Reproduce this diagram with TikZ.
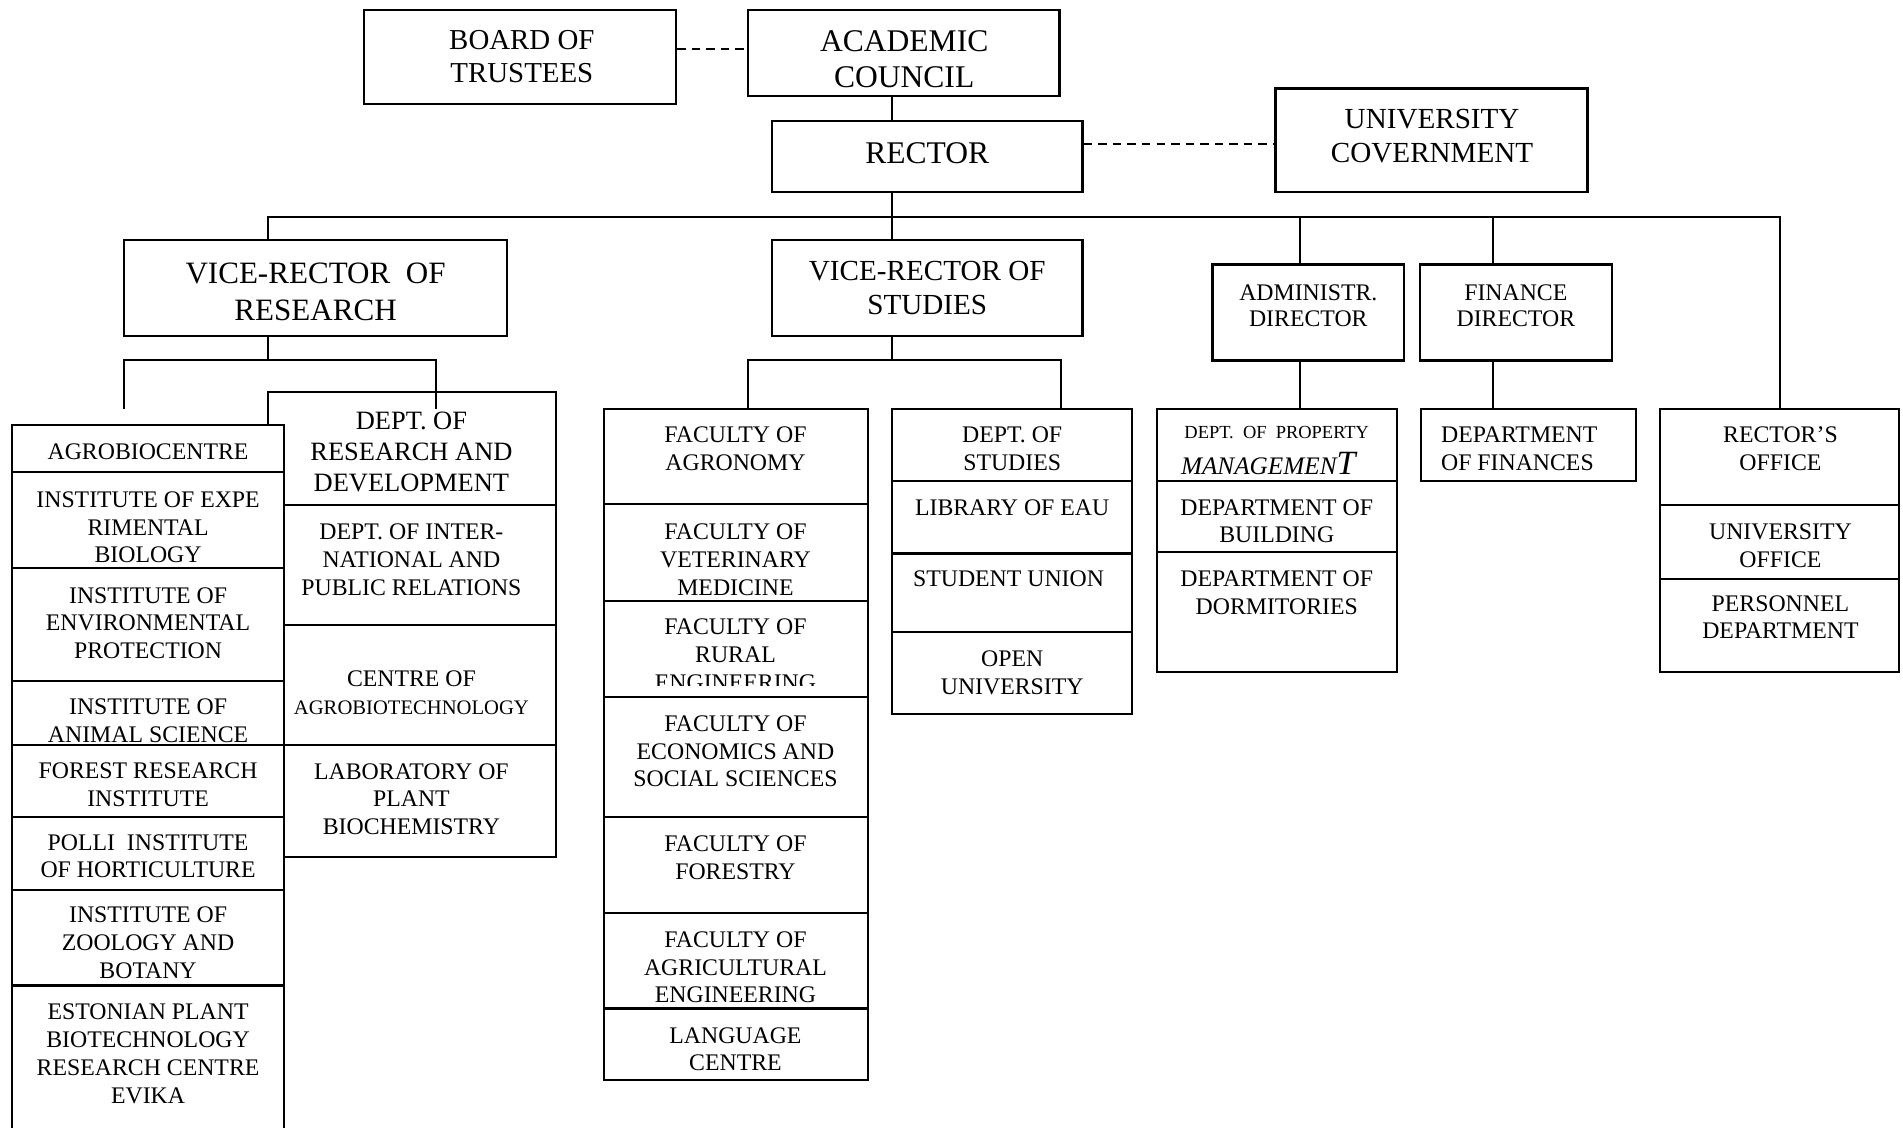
\documentclass[tikz,border=0pt]{standalone}
\usepackage{fontspec}
\setmainfont{Liberation Serif}
\usetikzlibrary{fit}
\tikzset{
  box/.style={draw, line width=0.9pt, fill=white, inner sep=0pt},
  conn/.style={line width=0.8pt},
  dashconn/.style={line width=0.8pt, dash pattern=on 3.5pt off 2.5pt},
  txt/.style={align=center, inner sep=0pt, yshift=-0.5pt},
  lbl/.style={txt, font=\fontsize{9.8}{11.5}\selectfont},
  dirf/.style={txt, font=\fontsize{9.8}{11}\selectfont},
  bigf/.style={txt, font=\fontsize{13}{15}\selectfont},
  vrf/.style={txt, font=\fontsize{12.8}{15.5}\selectfont},
  midf/.style={txt, font=\fontsize{12}{14}\selectfont},
  boardf/.style={txt, font=\fontsize{11.9}{13.5}\selectfont},
  rdf/.style={txt, font=\fontsize{10.9}{12.8}\selectfont},
}
\newcommand\cbox[5]{\node[box, fit={(#2,#3) (#4,#5)}] (#1) {};}
\begin{document}
\begin{tikzpicture}[x=0.5pt, y=-0.5pt]
\useasboundingbox (0,0) rectangle (1568,929);

% ---------- top level ----------
\cbox{board}{300}{8}{557}{86}
\node[boardf] (board-t) at (430,45.5) {BOARD OF\\TRUSTEES};
\cbox{acad}{616}{8}{873}{79}
\node[bigf] (acad-t) at (745,48) {ACADEMIC\\COUNCIL};
\cbox{rector}{636}{100}{892}{158}
\node[bigf] (rector-t) at (764,125) {RECTOR};
\cbox{gov}{1051}{73}{1308}{158}
\node[midf] (gov-t) at (1180,111) {UNIVERSITY\\COVERNMENT};

\cbox{vrr}{102}{198}{418}{277}
\node[vrf] (vrr-t) at (260,239.5) {VICE-RECTOR\ \ OF\\RESEARCH};
\cbox{vrs}{636}{198}{892}{277}
\node[midf] (vrs-t) at (764,236) {VICE-RECTOR OF\\STUDIES};
\cbox{adm}{999}{218}{1157}{297}
\node[dirf] (adm-t) at (1078,251) {ADMINISTR.\\DIRECTOR};
\cbox{fin}{1170}{218}{1328}{297}
\node[dirf] (fin-t) at (1249,251) {FINANCE\\DIRECTOR};

% ---------- research: R&D column ----------
\cbox{rd1}{221}{323}{458}{416}
\node[rdf] (rd1-t) at (339,371.5) {DEPT. OF\\RESEARCH AND\\DEVELOPMENT};
\cbox{rd2}{234}{416}{458}{515}
\node[lbl] (rd2-t) at (339,460.5) {DEPT. OF INTER-\\NATIONAL AND\\PUBLIC RELATIONS};
\cbox{rd3}{234}{515}{458}{614}
\node[lbl] (rd3-t) at (339,569.5) {CENTRE OF\\{\fontsize{8.5}{11.5}\selectfont AGROBIOTECHNOLOGY}};
\cbox{rd4}{234}{614}{458}{706}
\node[lbl] (rd4-t) at (339,657.5) {LABORATORY OF\\PLANT\\BIOCHEMISTRY};

% ---------- research: institutes column ----------
\cbox{ag1}{10}{350}{234}{389}
\node[lbl] (ag1-t) at (122,371) {AGROBIOCENTRE};
\cbox{ag2}{10}{389}{234}{468}
\node[lbl] (ag2-t) at (122,433.5) {INSTITUTE OF EXPE\\RIMENTAL\\BIOLOGY};
\cbox{ag3}{10}{468}{234}{561}
\node[lbl] (ag3-t) at (122,512.5) {INSTITUTE OF\\ENVIRONMENTAL\\PROTECTION};
\cbox{ag4}{10}{561}{234}{614}
\node[lbl] (ag4-t) at (122,592.5) {INSTITUTE OF\\ANIMAL SCIENCE};
\cbox{ag5}{10}{614}{234}{673}
\node[lbl] (ag5-t) at (122,645.5) {FOREST RESEARCH\\INSTITUTE};
\cbox{ag6}{10}{673}{234}{733}
\node[lbl] (ag6-t) at (122,704.5) {POLLI\ \ INSTITUTE\\OF HORTICULTURE};
\cbox{ag7}{10}{733}{234}{812}
\node[lbl] (ag7-t) at (122,776) {INSTITUTE OF\\ZOOLOGY AND\\BOTANY};
\cbox{ag8}{10}{812}{234}{945}
\node[lbl] (ag8-t) at (122,867) {ESTONIAN PLANT\\BIOTECHNOLOGY\\RESEARCH CENTRE\\EVIKA};

% ---------- studies: faculties ----------
\cbox{fa1}{498}{337}{715}{415}
\node[lbl] (fa1-t) at (606,368.5) {FACULTY OF\\AGRONOMY};
\cbox{fa2}{498}{415}{715}{495}
\node[lbl] (fa2-t) at (606,460) {FACULTY OF\\VETERINARY\\MEDICINE};
\cbox{fa3}{498}{495}{715}{574}
\begin{scope}
\clip (498,495) rectangle (715,565);
\node[lbl] (fa3-t) at (606,538.5) {FACULTY OF\\RURAL\\ENGINEERING};
\end{scope}
\cbox{fa4}{498}{574}{715}{673}
\node[lbl] (fa4-t) at (606,618) {FACULTY OF\\ECONOMICS AND\\SOCIAL SCIENCES};
\cbox{fa5}{498}{673}{715}{752}
\node[lbl] (fa5-t) at (606,705.5) {FACULTY OF\\FORESTRY};
\cbox{fa6}{498}{752}{715}{831}
\node[lbl] (fa6-t) at (606,796) {FACULTY OF\\AGRICULTURAL\\ENGINEERING};
\cbox{fa7}{498}{831}{715}{890}
\node[lbl] (fa7-t) at (606,863.5) {LANGUAGE\\CENTRE};

% ---------- studies: departments ----------
\cbox{st1}{735}{337}{933}{396}
\node[lbl] (st1-t) at (834,368.5) {DEPT. OF\\STUDIES};
\cbox{st2}{735}{396}{933}{456}
\node[lbl] (st2-t) at (834,417) {LIBRARY OF EAU};
\cbox{st3}{735}{456}{933}{521}
\node[lbl] (st3-t) at (831,476) {STUDENT UNION};
\cbox{st4}{735}{521}{933}{588}
\node[lbl] (st4-t) at (834,553.5) {OPEN\\UNIVERSITY};

% ---------- administration ----------
\cbox{ad1}{953}{337}{1151}{396}
\node[lbl, font=\fontsize{7.6}{9}\selectfont] (ad1-t) at (1052,355) {DEPT.\ \ OF\ \ PROPERTY};
\begin{scope}
\clip (953,337) rectangle (1151,391);
\node[lbl, font=\itshape] (ad1-m) at (1045,381) {{\fontsize{10.4}{12}\selectfont MANAGEMEN}{\fontsize{14}{14}\selectfont T}};
\end{scope}
\cbox{ad2}{953}{396}{1151}{455}
\node[lbl] (ad2-t) at (1052,428.5) {DEPARTMENT OF\\BUILDING};
\cbox{ad3}{953}{455}{1151}{554}
\node[lbl] (ad3-t) at (1052,487.5) {DEPARTMENT OF\\DORMITORIES};

% ---------- finance ----------
\cbox{df}{1171}{337}{1348}{396}
\node[lbl, align=left, anchor=west] (df-t) at (1187,368.5) {DEPARTMENT\\OF FINANCES};

% ---------- rector's office ----------
\cbox{ro1}{1368}{337}{1565}{416}
\node[lbl] (ro1-t) at (1467,368.5) {RECTOR’S\\OFFICE};
\cbox{ro2}{1368}{416}{1565}{477}
\node[lbl] (ro2-t) at (1467,448.5) {UNIVERSITY\\OFFICE};
\cbox{ro3}{1368}{477}{1565}{554}
\node[lbl] (ro3-t) at (1467,507.5) {PERSONNEL\\DEPARTMENT};

% ---------- connectors ----------
\coordinate (d1) at (0,40);
\coordinate (d2) at (0,119);
\draw[dashconn] (board.east |- d1) -- (acad.west |- d1);
\draw[dashconn] (rector.east |- d2) -- (gov.west |- d2);

\coordinate (b0) at (735,179);
\coordinate (bL) at (221,179);
\coordinate (bR) at (1467,179);
\coordinate (bA) at (1071,179);
\coordinate (bF) at (1230,179);
\draw[conn] (acad.south -| b0) -- (rector.north -| b0);
\draw[conn] (rector.south -| b0) -- (vrs.north -| b0);
\draw[conn] (vrr.north -| bL) -- (bL) -- (bR) -- (ro1.north -| bR);
\draw[conn] (bA) -- (adm.north -| bA);
\draw[conn] (bF) -- (fin.north -| bF);
\draw[conn] (adm.south -| bA) -- (ad1.north -| bA);
\draw[conn] (fin.south -| bF) -- (df.north -| bF);

\coordinate (rj) at (221,297);
\coordinate (rL) at (102,297);
\coordinate (rR) at (359,297);
\coordinate (rLe) at (102,337);
\coordinate (rRe) at (359,337);
\draw[conn] (vrr.south -| rj) -- (rj);
\draw[conn] (rLe) -- (rL) -- (rR) -- (rRe);

\coordinate (sj) at (735,297);
\coordinate (sL) at (616,297);
\coordinate (sR) at (874,297);
\draw[conn] (vrs.south -| sj) -- (sj);
\draw[conn] (fa1.north -| sL) -- (sL) -- (sR) -- (st1.north -| sR);
\end{tikzpicture}
\end{document}
